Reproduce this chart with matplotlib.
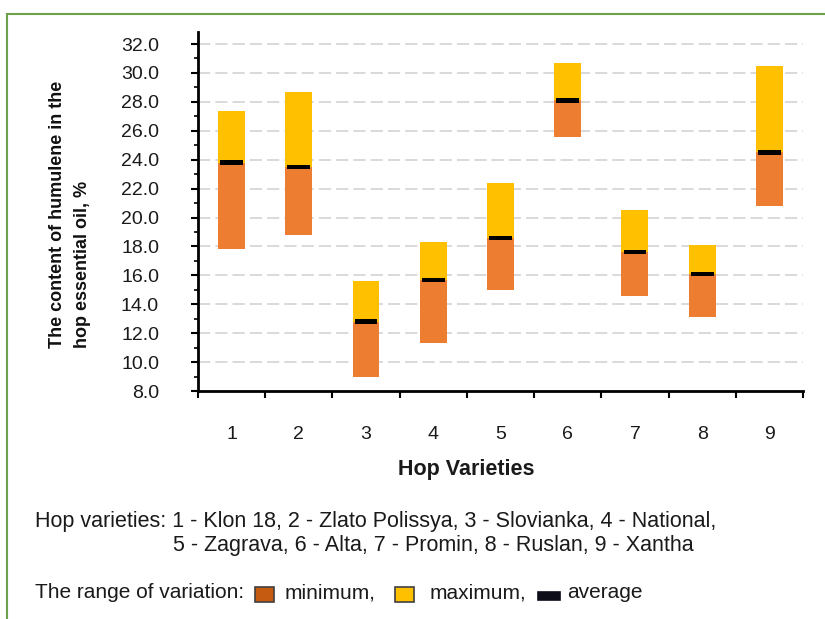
import matplotlib
matplotlib.use("Agg")
import matplotlib.pyplot as plt
from matplotlib.patches import Rectangle
from matplotlib.ticker import MultipleLocator, FixedLocator
import numpy as np

plt.rcParams['font.family'] = ['Liberation Sans', 'DejaVu Sans']

varieties = ["1", "2", "3", "4", "5", "6", "7", "8", "9"]
minimum = [17.8, 18.8, 9.0, 11.3, 15.0, 25.6, 14.6, 13.1, 20.8]
average = [23.8, 23.5, 12.8, 15.7, 18.6, 28.1, 17.6, 16.1, 24.5]
maximum = [27.4, 28.7, 15.6, 18.3, 22.4, 30.7, 20.5, 18.1, 30.5]

y_ticks = [8.0, 10.0, 12.0, 14.0, 16.0, 18.0, 20.0, 22.0, 24.0, 26.0, 28.0, 30.0, 32.0]

ORANGE = "#ED7D31"
YELLOW = "#FFC000"
TXT = "#1a1a1a"

W, H = 825, 619
fig = plt.figure(figsize=(W / 100, H / 100), dpi=100)
ax = fig.add_axes([198 / W, 1 - 391 / H, 605 / W, 359 / H])

x = np.arange(1, len(varieties) + 1)
mn = np.array(minimum)
av = np.array(average)
mx = np.array(maximum)

ax.bar(x, av - mn, bottom=mn, width=0.40, color=ORANGE, zorder=3)
ax.bar(x, mx - av, bottom=av, width=0.40, color=YELLOW, zorder=3)
ax.bar(x, 0.30, bottom=av - 0.15, width=0.34, color="black", zorder=4)

ax.set_xlim(0.5, len(varieties) + 0.5)
ax.set_ylim(8.0, 32.83)

ax.yaxis.set_major_locator(FixedLocator(y_ticks))
ax.yaxis.set_minor_locator(MultipleLocator(1.0))
ax.set_yticklabels([f"{v:.1f}" for v in y_ticks])
for v in y_ticks[1:]:
    ax.axhline(v, color="#D0D0D0", lw=1.1, linestyle=(0, (8.0, 3.3)), zorder=1)

ax.xaxis.set_major_locator(FixedLocator(x))
ax.set_xticklabels(varieties)
ax.xaxis.set_minor_locator(FixedLocator(np.arange(0.5, len(varieties) + 1, 1.0)))
ax.tick_params(axis='x', which='major', length=0, pad=25, labelsize=14, labelcolor=TXT)
ax.tick_params(axis='x', which='minor', length=5, width=1.5, direction='out')
ax.tick_params(axis='y', which='major', length=5, width=1.5, direction='out', pad=23,
               labelsize=14, labelcolor=TXT)
ax.tick_params(axis='y', which='minor', length=3, width=1.2, direction='out')

for s in ["top", "right"]:
    ax.spines[s].set_visible(False)
for s in ["left", "bottom"]:
    ax.spines[s].set_linewidth(2.0)
    ax.spines[s].set_color("black")

fig.text(70 / W, 1 - 348 / H, "The content of humulene in the\nhop essential oil, %",
         rotation=90, ha="center", va="bottom", multialignment="left",
         fontsize=13, color="#111111", linespacing=1.6, fontweight="bold")

fig.text(466 / W, 1 - 470 / H, "Hop Varieties", ha="center", va="center",
         fontsize=15.5, fontweight="bold", color=TXT)

FS = 15.5
fig.text(35 / W, 1 - 521 / H,
         "Hop varieties: 1 - Klon 18, 2 - Zlato Polissya, 3 - Slovianka, 4 - National,",
         ha="left", va="center", fontsize=FS, color=TXT)
fig.text(173 / W, 1 - 546 / H,
         "5 - Zagrava, 6 - Alta, 7 - Promin, 8 - Ruslan, 9 - Xantha",
         ha="left", va="center", fontsize=FS, color=TXT)
FS2 = 15
fig.text(35 / W, 1 - 593 / H, "The range of variation:",
         ha="left", va="center", fontsize=FS2, color=TXT)
fig.text(285 / W, 1 - 593 / H, "minimum,",
         ha="left", va="center", fontsize=FS2, color=TXT)
fig.text(430 / W, 1 - 593 / H, "maximum,",
         ha="left", va="center", fontsize=FS2, color=TXT)
fig.text(567 / W, 1 - 593 / H, "average",
         ha="left", va="center", fontsize=FS2, color=TXT)

def box(x0, y0, w, h, fc, ec):
    fig.patches.append(Rectangle((x0 / W, 1 - (y0 + h) / H), w / W, h / H,
                                 transform=fig.transFigure, facecolor=fc,
                                 edgecolor=ec, linewidth=1.2))

box(255, 587, 19, 15, "#C55A11", "#404040")
box(395, 587, 19, 15, YELLOW, "#404040")
box(538, 592, 22, 8, "#0D0D1A", "#0D0D1A")

# green frame
fig.patches.append(Rectangle((7 / W, -0.1), 1.2, 1 - 14 / H + 0.1,
                             transform=fig.transFigure, facecolor="none",
                             edgecolor="#6FA04A", linewidth=1.5))

fig.savefig("out.png", dpi=100)
